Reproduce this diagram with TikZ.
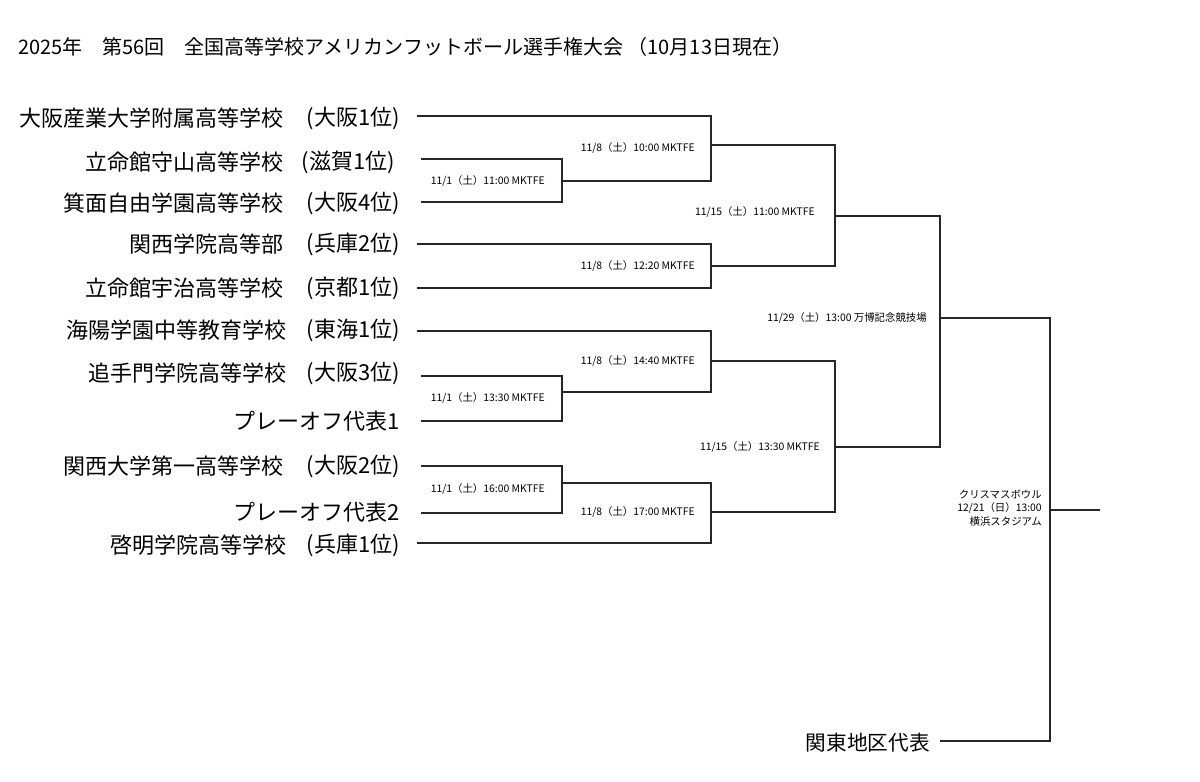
\documentclass[tikz,border=0pt]{standalone}
\usepackage{fontspec}
\setmainfont{Noto Sans CJK JP}
\usetikzlibrary{positioning}

\begin{document}
\begin{tikzpicture}[x=0.75pt,y=-0.75pt,
    team/.style={anchor=east,inner sep=0pt,font=\fontsize{16.5}{18}\selectfont},
    game/.style={anchor=east,inner sep=0pt,font=\fontsize{7.8}{10}\selectfont},
    bracket/.style={draw=black!85,line width=0.8pt}]

    \useasboundingbox[fill=white] (0,0) rectangle (1200,782);

    \node[anchor=west,inner sep=0pt,font=\fontsize{15}{18}\selectfont] (title) at (18,47)
        {2025年　第56回　全国高等学校アメリカンフットボール選手権大会 （10月13日現在）};

    % teams
    \node[team] (n1) at (284,118) {大阪産業大学附属高等学校};
    \node[team] (p1) at (400,118) {(大阪1位)};
    \node[team] (n2) at (284,162) {立命館守山高等学校};
    \node[team] (p2) at (395,162) {(滋賀1位)};
    \node[team] (n3) at (284,203) {箕面自由学園高等学校};
    \node[team] (p3) at (400,203) {(大阪4位)};
    \node[team] (n4) at (284,244) {関西学院高等部};
    \node[team] (p4) at (400,244) {(兵庫2位)};
    \node[team] (n5) at (284,288) {立命館宇治高等学校};
    \node[team] (p5) at (400,288) {(京都1位)};
    \node[team] (n6) at (287,330) {海陽学園中等教育学校};
    \node[team] (p6) at (400,330) {(東海1位)};
    \node[team] (n7) at (287,373) {追手門学院高等学校};
    \node[team] (p7) at (400,373) {(大阪3位)};
    \node[team] (p8) at (400,421) {プレーオフ代表1};
    \node[team] (n9) at (284,466) {関西大学第一高等学校};
    \node[team] (p9) at (400,466) {(大阪2位)};
    \node[team] (p10) at (400,512) {プレーオフ代表2};
    \node[team] (n11) at (287,545) {啓明学院高等学校};
    \node[team] (p11) at (400,545) {(兵庫1位)};
    \node[team,font=\fontsize{15.5}{18}\selectfont] (kanto) at (930,743) {関東地区代表};

    % line ends
    \coordinate (t1) at (417,116);  \coordinate (t2) at (421,159);
    \coordinate (t3) at (421,202);  \coordinate (t4) at (417,244);
    \coordinate (t5) at (417,288);  \coordinate (t6) at (417,331);
    \coordinate (t7) at (421,376);  \coordinate (t8) at (421,421);
    \coordinate (t9) at (421,466);  \coordinate (t10) at (421,513);
    \coordinate (t11) at (417,543); \coordinate (t12) at (940,741);

    % games
    \coordinate (r1a) at (562,181); \coordinate (r1b) at (562,392);
    \coordinate (r1c) at (562,483);
    \coordinate (q1) at (711,145);  \coordinate (q2) at (711,266);
    \coordinate (q3) at (711,361);  \coordinate (q4) at (711,512);
    \coordinate (s1) at (835,216);  \coordinate (s2) at (835,447);
    \coordinate (f1) at (940,318);
    \coordinate (cb) at (1050,510); \coordinate (win) at (1100,510);

    \path[bracket] (t2) -| (r1a)  (t3) -| (r1a)
                   (t7) -| (r1b)  (t8) -| (r1b)
                   (t9) -| (r1c)  (t10) -| (r1c)
                   (t1) -| (q1)   (r1a) -| (q1)
                   (t4) -| (q2)   (t5) -| (q2)
                   (t6) -| (q3)   (r1b) -| (q3)
                   (r1c) -| (q4)  (t11) -| (q4)
                   (q1) -| (s1)   (q2) -| (s1)
                   (q3) -| (s2)   (q4) -| (s2)
                   (s1) -| (f1)   (s2) -| (f1)
                   (f1) -| (cb)   (t12) -| (cb)
                   (cb) -- (win);

    \node[game,left=12.75pt of r1a] (g1) {11/1（土）11:00 MKTFE};
    \node[game,left=12.75pt of r1b,yshift=-4.5pt] (g2) {11/1（土）13:30 MKTFE};
    \node[game,left=12.75pt of r1c,yshift=-4.5pt] (g3) {11/1（土）16:00 MKTFE};
    \node[game,left=12pt of q1,yshift=-2.5pt] (h1) {11/8（土）10:00 MKTFE};
    \node[game,left=12pt of q2] (h2) {11/8（土）12:20 MKTFE};
    \node[game,left=12pt of q3] (h3) {11/8（土）14:40 MKTFE};
    \node[game,left=12pt of q4] (h4) {11/8（土）17:00 MKTFE};
    \node[game,left=15pt of s1,yshift=3pt] (k1) {11/15（土）11:00 MKTFE};
    \node[game,left=11.25pt of s2] (k2) {11/15（土）13:30 MKTFE};
    \node[game,left=9.75pt of f1] (fin) {11/29（土）13:00 万博記念競技場};
    \node[game,align=right,left=6pt of cb,yshift=1.5pt] (xmas)
        {クリスマスボウル\\12/21（日）13:00\\横浜スタジアム};

\end{tikzpicture}
\end{document}
